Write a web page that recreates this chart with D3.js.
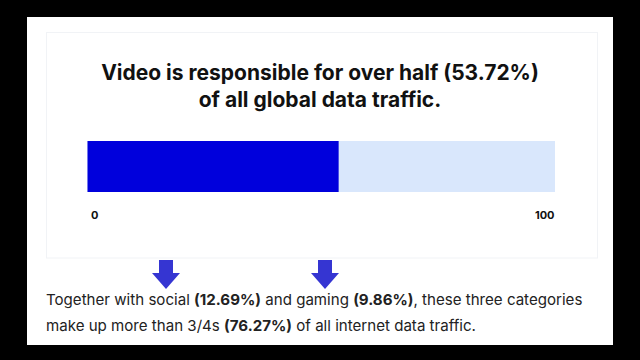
<!DOCTYPE html>
<html><head><meta charset="utf-8">
<script src="https://cdn.jsdelivr.net/npm/d3@7"></script>
<style>html,body{margin:0;padding:0;background:#000;}svg{display:block;}</style>
</head><body>
<svg id="c" width="640" height="360"></svg>
<script>
const categories = ["Video"];
const shares = [53.72];
const domainTicks = [0, 100];
const titleLines = ["Video is responsible for over half (53.72%)", "of all global data traffic."];
const noteSocial = 12.69, noteGaming = 9.86, noteTotal = 76.27;

const svg = d3.select("#c");
svg.append("rect").attr("width",640).attr("height",360).attr("fill","#000");
svg.append("rect").attr("x",27).attr("y",17).attr("width",586).attr("height",328).attr("fill","#fff");
svg.append("rect").attr("x",46.5).attr("y",32.5).attr("width",551).attr("height",225.5)
  .attr("fill","#fff").attr("stroke","#f1f3f6").attr("stroke-width",1);

svg.selectAll("text.title").data(titleLines).join("text").attr("class","title")
  .attr("x",320).attr("y",(d,i)=>80+i*27).attr("text-anchor","middle")
  .attr("font-family","Inter, 'Noto Sans', sans-serif").attr("font-weight",700)
  .attr("font-size",21).attr("fill","#111").text(d=>d);

const x = d3.scaleLinear().domain([0,100]).range([87.5,555]);
const y = d3.scaleBand().domain(categories).range([141,192]).padding(0);

svg.selectAll("rect.bg").data(categories).join("rect").attr("class","bg")
  .attr("x",x(0)).attr("y",d=>y(d)).attr("width",x(100)-x(0)).attr("height",y.bandwidth())
  .attr("fill","#d9e7fc");
svg.selectAll("rect.val").data(shares).join("rect").attr("class","val")
  .attr("x",x(0)).attr("y",(d,i)=>y(categories[i])).attr("width",d=>x(d)-x(0)).attr("height",y.bandwidth())
  .attr("fill","#0000dc");

const axis = d3.axisBottom(x).tickValues(domainTicks).tickSize(0).tickPadding(0);
const ax = svg.append("g").attr("transform","translate(0,211)").call(axis);
ax.select(".domain").remove();
ax.selectAll("text").attr("font-family","Inter, 'Noto Sans', sans-serif").attr("font-weight",700)
  .attr("font-size",11).attr("fill","#111")
  .attr("text-anchor",d=>d===0?"start":"end")
  .attr("dx",d=>d===0?3:-1);

// arrows
const arrow = (cx)=>`M${cx-7},260 L${cx+7},260 L${cx+7},273 L${cx+14},273 L${cx},289 L${cx-14},273 L${cx-7},273 Z`;
svg.selectAll("path.arrow").data([166,325]).join("path").attr("class","arrow")
  .attr("d",d=>arrow(d)).attr("fill","#3535d2");

const note = svg.append("g").attr("font-family","Inter, 'Noto Sans', sans-serif").attr("font-size",15.1).attr("fill","#222");
const t1 = note.append("text").attr("x",46).attr("y",305);
t1.append("tspan").text("Together with social ");
t1.append("tspan").attr("font-weight",700).text(`(${noteSocial.toFixed(2)}%)`);
t1.append("tspan").text(" and gaming ");
t1.append("tspan").attr("font-weight",700).text(`(${noteGaming.toFixed(2)}%)`);
t1.append("tspan").text(", these three categories");
const t2 = note.append("text").attr("x",46).attr("y",331);
t2.append("tspan").text("make up more than 3/4s ");
t2.append("tspan").attr("font-weight",700).text(`(${noteTotal.toFixed(2)}%)`);
t2.append("tspan").text(" of all internet data traffic.");
</script>
</body></html>
